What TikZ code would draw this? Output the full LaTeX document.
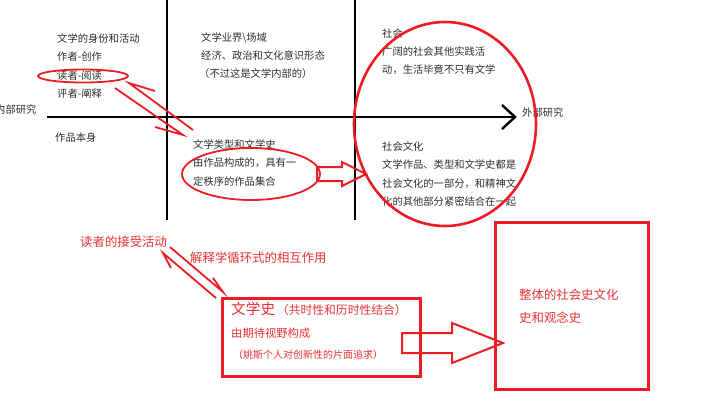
\documentclass[tikz,border=0pt]{standalone}
\usepackage{fontspec}
\setmainfont{Noto Sans CJK SC}
\definecolor{ink}{RGB}{45,45,45}
\definecolor{pred}{RGB}{237,28,36}
\definecolor{tred}{RGB}{232,48,52}
\begin{document}
\begin{tikzpicture}[x=1pt,y=-1pt,
  txt/.style={anchor=west,inner sep=0pt,text=ink,font=\fontsize{10.3}{12}\selectfont},
  rtxt/.style={anchor=west,inner sep=0pt,text=tred,font=\fontsize{12.4}{14}\selectfont},
  axis/.style={draw=black,line width=2.4pt},
  redline/.style={draw=pred,line width=1.8pt},
  redbox/.style={draw=pred,line width=3pt},
  blockarrow/.style={draw=pred,line width=2pt,line join=miter}]
\useasboundingbox (0,0) rectangle (720,405);
% axes
\coordinate (v1t) at (167,-2); \coordinate (v1b) at (167,220);
\coordinate (v2t) at (355,-2); \coordinate (v2b) at (355,220);
\coordinate (hl) at (47,117); \coordinate (hr) at (515,117);
\draw[axis] (v1t) -- (v1b);
\draw[axis] (v2t) -- (v2b);
\draw[axis] (hl) -- (hr);
\draw[axis,line join=miter] (502,105) -- (hr) -- (502,129);
\node[txt] (inner) at (-5,110) {内部研究};
\node[txt] (outer) at (522,113) {外部研究};
% column 1
\node[txt] (c1a) at (57,39) {文学的身份和活动};
\node[txt] (c1b) at (57,57) {作者-创作};
\node[txt] (c1c) at (57,76) {读者-阅读};
\node[txt] (c1d) at (57,94) {评者-阐释};
\node[txt] (c1e) at (55,138) {作品本身};
% column 2
\node[txt] (c2a) at (201,38) {文学业界\textbackslash 场域};
\node[txt] (c2b) at (201,56) {经济、政治和文化意识形态};
\node[txt] (c2c) at (199,74) {（不过这是文学内部的）};
\node[txt] (c2d) at (193,145) {文学类型和文学史};
\node[txt] (c2e) at (193,163) {由作品构成的，具有一};
\node[txt] (c2f) at (193,182) {定秩序的作品集合};
% column 3
\node[txt] (c3a) at (382,34) {社会};
\node[txt] (c3b) at (382,52) {广阔的社会其他实践活};
\node[txt] (c3c) at (382,70) {动，生活毕竟不只有文学};
\node[txt] (c3d) at (382,147) {社会文化};
\node[txt] (c3e) at (382,165) {文学作品、类型和文学史都是};
\node[txt] (c3f) at (382,184) {社会文化的一部分，和精神文};
\node[txt] (c3g) at (382,202) {化的其他部分紧密结合在一起};
% red ellipses
\draw[redline] (83,76) ellipse [x radius=45, y radius=6.5];
\draw[redline] (251,174) ellipse [x radius=69, y radius=26];
\draw[redline,line width=2.6pt] (445,124) ellipse [x radius=91, y radius=102];
% half arrows 1
\coordinate (a1s) at (129,83); \coordinate (a1e) at (193,130);
\coordinate (a2s) at (115,88); \coordinate (a2e) at (183,135);
\draw[redline] (155,91) -- (a1s) -- (a1e);
\draw[redline] (a2s) -- (a2e) -- (155,127);
% block arrow 1
\draw[blockarrow] (317,167) -- (342,167) -- (342,162) -- (366,174) -- (342,186) -- (342,181) -- (317,181) -- cycle;
% red texts
\node[rtxt] (recv) at (80,242) {读者的接受活动};
\node[rtxt] (herm) at (190,258) {解释学循环式的相互作用};
% box 1
\draw[redbox] (222,298) rectangle (420,376);
\node[anchor=west,inner sep=0pt,text=tred] (lh) at (231,309) {{\fontsize{14.7}{16}\selectfont 文学史}\,{\fontsize{11.8}{13}\selectfont（共时性和历时性结合）}};
\node[anchor=west,inner sep=0pt,text=tred,font=\fontsize{11.3}{13}\selectfont] (exp) at (231,333) {由期待视野构成};
\node[anchor=west,inner sep=0pt,text=tred,font=\fontsize{10}{11}\selectfont] (jauss) at (233,355) {（姚斯个人对创新性的片面追求）};
% half arrows 2
\coordinate (b1s) at (163,253); \coordinate (b1e) at (216,298);
\coordinate (b2s) at (170,247); \coordinate (b2e) at (223,292);
\draw[redline] (171,268) -- (b1s) -- (b1e);
\draw[redline] (b2s) -- (b2e) -- (213,278);
% block arrow 2
\draw[blockarrow] (402,333) -- (452,333) -- (452,323) -- (503,343) -- (452,363) -- (452,353) -- (402,353) -- cycle;
% box 2
\draw[redbox] (495,222) rectangle (648,389);
\node[rtxt] (whole1) at (519,295) {整体的社会史文化};
\node[rtxt] (whole2) at (519,318) {史和观念史};
\end{tikzpicture}
\end{document}
